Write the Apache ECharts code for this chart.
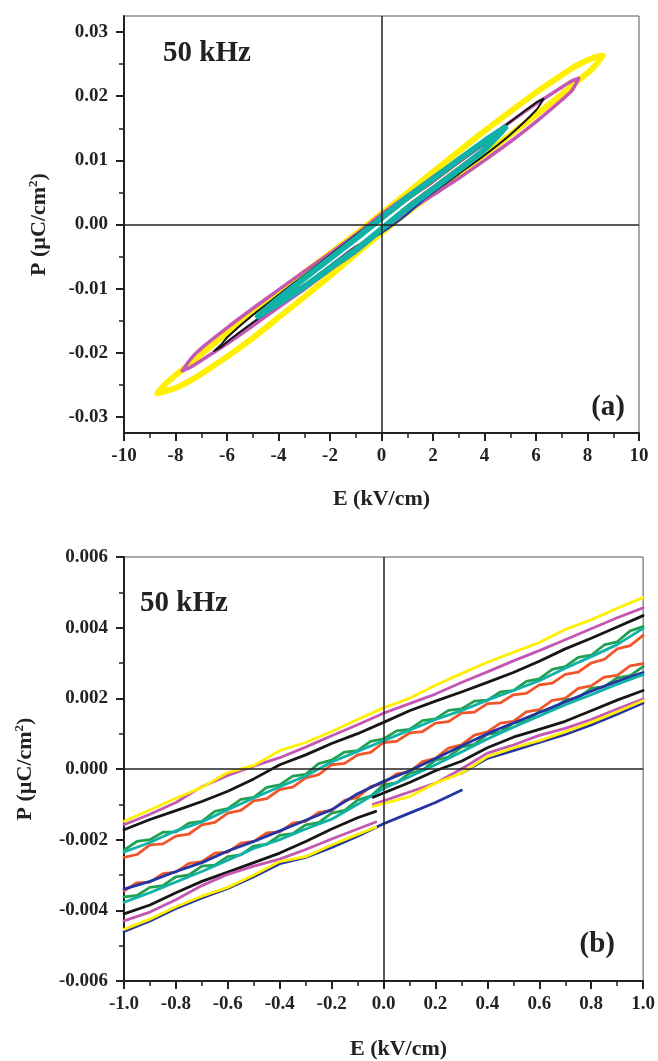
<!DOCTYPE html>
<html>
<head>
<meta charset="utf-8">
<script src="https://cdn.jsdelivr.net/npm/echarts@6/dist/echarts.min.js"></script>
<style>
html,body{margin:0;padding:0;background:#fff;}
#chart{width:658px;height:1061px;}
</style>
</head>
<body>
<div id="chart"></div>
<script>
// ---------- Panel (a): hysteresis loops, E (kV/cm) vs P (uC/cm2) ----------
const yelE = [-8.7,-8.4,-8.0,-7.5,-7.0,-6.0,-5.0,-4.0,-3.0,-2.0,-1.0,0.0,1.0,2.0,3.0,4.0,5.0,6.0,7.0,7.5,8.0,8.3,8.6,
              8.3,8.0,7.5,7.0,6.0,5.0,4.0,3.0,2.0,1.0,0.0,-1.0,-2.0,-3.0,-4.0,-5.0,-6.0,-7.0,-7.5,-8.0,-8.4,-8.7];
const yelP = [-0.0263,-0.0260,-0.0255,-0.0245,-0.0233,-0.0206,-0.0177,-0.0145,-0.0113,-0.0080,-0.0046,-0.0013,0.0019,0.0049,0.0079,0.0109,0.0140,0.0171,0.0203,0.0220,0.0236,0.0248,0.0263,
              0.0261,0.0256,0.0246,0.0233,0.0206,0.0176,0.0146,0.0114,0.0082,0.0049,0.0017,-0.0015,-0.0045,-0.0075,-0.0105,-0.0137,-0.0169,-0.0202,-0.0219,-0.0235,-0.0249,-0.0263];
const magE = [-7.74,-7.4,-7.0,-6.0,-5.0,-4.0,-3.0,-2.0,-1.0,0.0,1.0,2.0,3.0,4.0,5.0,6.0,7.0,7.4,7.66,
              7.4,7.0,6.0,5.0,4.0,3.0,2.0,1.0,0.0,-1.0,-2.0,-3.0,-4.0,-5.0,-6.0,-7.0,-7.4,-7.74];
const magP = [-0.0228,-0.0222,-0.0212,-0.0186,-0.0158,-0.0129,-0.0101,-0.0071,-0.0043,-0.0010,0.0020,0.0046,0.0072,0.0100,0.0129,0.0160,0.0194,0.0209,0.0228,
              0.0224,0.0214,0.0188,0.0160,0.0131,0.0102,0.0074,0.0045,0.0016,-0.0016,-0.0045,-0.0073,-0.0102,-0.0131,-0.0161,-0.0193,-0.0209,-0.0228];
const blkE = [-6.5,-6.2,-6.0,-5.0,-4.0,-3.0,-2.0,-1.0,0.0,1.0,2.0,3.0,4.0,5.0,6.0,6.3,
              6.0,5.0,4.0,3.0,2.0,1.0,0.0,-1.0,-2.0,-3.0,-4.0,-5.0,-6.0,-6.2,-6.5];
const blkP = [-0.0197,-0.0190,-0.0183,-0.0153,-0.0124,-0.0096,-0.0069,-0.0041,-0.0008,0.0022,0.0050,0.0079,0.0108,0.0140,0.0178,0.0196,
              0.0190,0.0160,0.0131,0.0103,0.0074,0.0043,0.0013,-0.0017,-0.0048,-0.0079,-0.0110,-0.0141,-0.0176,-0.0186,-0.0197];
const bluE = [-4.4,-4.0,-3.0,-2.0,-1.0,0.0,1.0,2.0,3.0,4.0,4.4,
              4.0,3.0,2.0,1.0,0.0,-1.0,-2.0,-3.0,-4.0,-4.4];
const bluP = [-0.0134,-0.0122,-0.0095,-0.0064,-0.0034,-0.0013,0.0016,0.0052,0.0088,0.0118,0.0134,
              0.0125,0.0096,0.0066,0.0038,0.0007,-0.0024,-0.0054,-0.0084,-0.0114,-0.0134];
const orgE = [-4.5,-4.0,-3.0,-2.0,-1.0,0.0,1.0,2.0,3.0,4.0,4.5,
              4.0,3.0,2.0,1.0,0.0,-1.0,-2.0,-3.0,-4.0,-4.5];
const orgP = [-0.0137,-0.0120,-0.0093,-0.0064,-0.0035,-0.0004,0.0030,0.0060,0.0090,0.0120,0.0138,
              0.0126,0.0096,0.0066,0.0038,0.0007,-0.0025,-0.0056,-0.0086,-0.0115,-0.0137];
const grnE = [-4.6,-4.0,-3.0,-2.0,-1.0,0.0,1.0,2.0,3.0,4.0,4.6,
              4.0,3.0,2.0,1.0,0.0,-1.0,-2.0,-3.0,-4.0,-4.6];
const grnP = [-0.0140,-0.0121,-0.0094,-0.0065,-0.0036,-0.0004,0.0029,0.0059,0.0089,0.0119,0.0142,
              0.0128,0.0098,0.0069,0.0040,0.0008,-0.0023,-0.0053,-0.0083,-0.0113,-0.0140];
const tealE = [-4.8,-4.0,-3.0,-2.0,-1.0,0.0,1.0,2.0,3.0,4.0,4.8,
               4.0,3.0,2.0,1.0,0.0,-1.0,-2.0,-3.0,-4.0,-4.8];
const tealP = [-0.0143,-0.0123,-0.0097,-0.0068,-0.0040,-0.0007,0.0025,0.0055,0.0085,0.0117,0.0151,
               0.0130,0.0101,0.0071,0.0042,0.0010,-0.0022,-0.0053,-0.0084,-0.0116,-0.0143];

const aYTicks = [-0.03,-0.02,-0.01,0.00,0.01,0.02,0.03];
const aYMinor = [-0.025,-0.015,-0.005,0.005,0.015,0.025];

// ---------- Panel (b): zoom of the loops near the origin ----------
const eGrid = [-1.0,-0.9,-0.8,-0.7,-0.6,-0.5,-0.4,-0.3,-0.2,-0.1,0.0,0.1,0.2,0.3,0.4,0.5,0.6,0.7,0.8,0.9,1.0];
const eFine = [-1.00,-0.95,-0.90,-0.85,-0.80,-0.75,-0.70,-0.65,-0.60,-0.55,-0.50,-0.45,-0.40,-0.35,-0.30,-0.25,-0.20,-0.15,-0.10,-0.05,
               0.00,0.05,0.10,0.15,0.20,0.25,0.30,0.35,0.40,0.45,0.50,0.55,0.60,0.65,0.70,0.75,0.80,0.85,0.90,0.95,1.00];
// upper branches
const yUp = [-0.00148,-0.00116,-0.00083,-0.00052,-0.00010,0.00010,0.00052,0.00075,0.00106,0.00140,0.00173,0.00200,0.00237,0.00270,0.00302,0.00330,0.00358,0.00395,0.00422,0.00455,0.00485];
const mUp = [-0.00158,-0.00128,-0.00095,-0.00050,-0.00018,0.00008,0.00032,0.00062,0.00094,0.00125,0.00158,0.00185,0.00212,0.00245,0.00275,0.00306,0.00335,0.00366,0.00397,0.00428,0.00456];
const kUp = [-0.00172,-0.00143,-0.00118,-0.00092,-0.00063,-0.00028,0.00012,0.00040,0.00072,0.00100,0.00132,0.00165,0.00192,0.00218,0.00245,0.00273,0.00305,0.00340,0.00370,0.00402,0.00434];
const tUp = [-0.00235,-0.00208,-0.00175,-0.00150,-0.00115,-0.00082,-0.00050,-0.00020,0.00020,0.00050,0.00080,0.00110,0.00140,0.00165,0.00195,0.00222,0.00250,0.00285,0.00318,0.00352,0.00398];
const oUp = [-0.00250,-0.00242,-0.00215,-0.00212,-0.00190,-0.00184,-0.00158,-0.00151,-0.00125,-0.00117,-0.00090,-0.00084,-0.00058,-0.00051,-0.00025,-0.00016,0.00012,0.00016,0.00040,0.00047,
             0.00075,0.00078,0.00102,0.00106,0.00130,0.00134,0.00158,0.00161,0.00185,0.00187,0.00210,0.00214,0.00238,0.00243,0.00268,0.00274,0.00300,0.00310,0.00340,0.00349,0.00378];
const gUp = [-0.00230,-0.00205,-0.00200,-0.00179,-0.00178,-0.00153,-0.00148,-0.00120,-0.00112,-0.00086,-0.00080,-0.00052,-0.00045,-0.00020,-0.00015,0.00015,0.00025,0.00048,0.00052,0.00078,
             0.00085,0.00108,0.00112,0.00137,0.00142,0.00166,0.00170,0.00192,0.00195,0.00218,0.00222,0.00248,0.00255,0.00282,0.00290,0.00316,0.00322,0.00351,0.00360,0.00391,0.00403];
// lower branches
const bLowA = [-0.00340,-0.00318,-0.00290,-0.00265,-0.00232,-0.00205,-0.00175,-0.00145,-0.00115,-0.00070,-0.00035,-0.00005,0.00030,0.00065,0.00100,0.00130,0.00160,0.00190,0.00220,0.00248,0.00273];
const tLow = [-0.00377,-0.00350,-0.00320,-0.00290,-0.00258,-0.00225,-0.00200,-0.00170,-0.00142,-0.00100,-0.00055,-0.00022,0.00012,0.00048,0.00085,0.00118,0.00150,0.00182,0.00210,0.00240,0.00267];
const oLow = [-0.00345,-0.00322,-0.00320,-0.00296,-0.00292,-0.00267,-0.00262,-0.00238,-0.00235,-0.00210,-0.00205,-0.00181,-0.00178,-0.00153,-0.00148,-0.00123,-0.00118,-0.00089,-0.00080,-0.00050,
              -0.00040,-0.00014,-0.00008,0.00021,0.00030,0.00059,0.00068,0.00096,0.00105,0.00130,0.00135,0.00162,0.00168,0.00194,0.00200,0.00228,0.00235,0.00260,0.00265,0.00292,0.00298];
const gLow = [-0.00362,-0.00358,-0.00335,-0.00330,-0.00305,-0.00300,-0.00275,-0.00272,-0.00248,-0.00243,-0.00218,-0.00213,-0.00188,-0.00183,-0.00158,-0.00152,-0.00125,-0.00117,-0.00088,-0.00077,
              -0.00045,-0.00039,-0.00012,-0.00003,0.00025,0.00034,0.00062,0.00070,0.00098,0.00104,0.00130,0.00136,0.00162,0.00168,0.00195,0.00202,0.00228,0.00233,0.00258,0.00264,0.00290];
// lower branches that break near E = 0
const segAE = [-1.0,-0.9,-0.8,-0.7,-0.6,-0.5,-0.4,-0.3,-0.2,-0.1,-0.03];
const segBE = [-0.04,0.0,0.1,0.2,0.3,0.4,0.5,0.6,0.7,0.8,0.9,1.0];
const yLowA = [-0.00454,-0.00425,-0.00390,-0.00360,-0.00335,-0.00300,-0.00262,-0.00248,-0.00215,-0.00185,-0.00165];
const yLowB = [-0.00106,-0.00098,-0.00078,-0.00040,-0.00012,0.00035,0.00060,0.00080,0.00105,0.00132,0.00162,0.00193];
const mLowA = [-0.00430,-0.00405,-0.00370,-0.00330,-0.00298,-0.00275,-0.00255,-0.00228,-0.00198,-0.00170,-0.00150];
const mLowB = [-0.00100,-0.00090,-0.00065,-0.00040,0.00000,0.00045,0.00068,0.00095,0.00115,0.00140,0.00170,0.00198];
const kLowA = [-0.00410,-0.00385,-0.00350,-0.00318,-0.00292,-0.00265,-0.00238,-0.00205,-0.00170,-0.00138,-0.00120];
const kLowB = [-0.00080,-0.00068,-0.00038,-0.00005,0.00022,0.00060,0.00090,0.00112,0.00135,0.00165,0.00195,0.00222];
const bbAE = [-1.0,-0.9,-0.8,-0.7,-0.6,-0.5,-0.4,-0.3,-0.2,-0.1,0.0,0.1,0.2,0.3];
const bLowB1 = [-0.00460,-0.00430,-0.00395,-0.00365,-0.00338,-0.00305,-0.00268,-0.00250,-0.00222,-0.00190,-0.00155,-0.00125,-0.00095,-0.00060];
const bbBE = [0.3,0.4,0.5,0.6,0.7,0.8,0.9,1.0];
const bLowB2 = [-0.00012,0.00030,0.00052,0.00075,0.00098,0.00125,0.00155,0.00187];

// ---------- styling ----------
const FONT = '"Liberation Serif", "Times New Roman", serif';
const C = {
  yellow: '#FFEF00', magenta: '#C457B4', black: '#161616', teal: '#10B2A8',
  green: '#22A052', orange: '#F0562A', blue: '#2434A2'
};

function pts(E, P) { return E.map((e, i) => [e, P[i]]); }

function lineSeries(g, E, P, color, width, extra) {
  return Object.assign({
    type: 'line', xAxisIndex: g, yAxisIndex: g === 0 ? 0 : 2,
    data: pts(E, P), showSymbol: false, symbol: 'none', silent: true,
    lineStyle: { color: color, width: width, join: 'round', cap: 'round' },
    emphasis: { disabled: true }, animation: false
  }, extra || {});
}

const zeroLines = {
  silent: true, symbol: ['none', 'none'], label: { show: false },
  lineStyle: { color: '#222', width: 1.5, type: 'solid' },
  data: [{ yAxis: 0 }, { xAxis: 0 }], animation: false
};

const tickLabel = { fontFamily: FONT, fontWeight: 'bold', fontSize: 19, color: '#222' };
const nameStyle = {
  fontFamily: FONT, fontWeight: 'bold', fontSize: 22, color: '#222',
  rich: { sup: { fontFamily: FONT, fontWeight: 'bold', fontSize: 13, color: '#222', padding: [0, 0, 12, 0] } }
};
const axisLine = { show: true, onZero: false, lineStyle: { color: '#222', width: 2 } };

const option = {
  animation: false,
  backgroundColor: '#fff',
  grid: [
    { left: 124, top: 16, width: 515, height: 417, show: true, borderColor: '#555', borderWidth: 1, containLabel: false },
    { left: 124, top: 557, width: 520, height: 424, show: true, borderColor: '#555', borderWidth: 1, containLabel: false }
  ],
  xAxis: [
    {
      gridIndex: 0, type: 'value', min: -10, max: 10, interval: 2,
      axisLine: axisLine,
      axisTick: { show: true, inside: false, length: 8, lineStyle: { color: '#222', width: 2 } },
      minorTick: { show: true, splitNumber: 2, length: 5, lineStyle: { color: '#222', width: 1.5 } },
      splitLine: { show: false }, minorSplitLine: { show: false },
      axisLabel: Object.assign({ margin: 14, formatter: v => String(Math.round(v)) }, tickLabel),
      name: 'E (kV/cm)', nameLocation: 'middle', nameGap: 55, nameTextStyle: nameStyle
    },
    {
      gridIndex: 1, type: 'value', min: -1, max: 1, interval: 0.2,
      axisLine: axisLine,
      axisTick: { show: true, inside: false, length: 8, lineStyle: { color: '#222', width: 2 } },
      minorTick: { show: true, splitNumber: 2, length: 5, lineStyle: { color: '#222', width: 1.5 } },
      splitLine: { show: false }, minorSplitLine: { show: false },
      axisLabel: Object.assign({ margin: 14, formatter: v => (Math.abs(v) < 1e-9 ? '0.0' : v.toFixed(1)) }, tickLabel),
      name: 'E (kV/cm)', nameLocation: 'middle', nameGap: 57,
      nameTextStyle: Object.assign({}, nameStyle, { padding: [0, 0, 0, 30] })
    }
  ],
  yAxis: [
    {
      gridIndex: 0, type: 'value', min: -0.0325, max: 0.0325, position: 'left',
      axisLine: axisLine,
      axisTick: { show: true, inside: false, length: 8, customValues: aYTicks, lineStyle: { color: '#222', width: 2 } },
      splitLine: { show: false },
      axisLabel: Object.assign({ margin: 16, customValues: aYTicks,
        formatter: v => (Math.abs(v) < 1e-9 ? '0.00' : v.toFixed(2)) }, tickLabel),
      name: 'P (µC/cm{sup|2})', nameLocation: 'middle', nameGap: 72, nameTextStyle: nameStyle
    },
    {
      gridIndex: 0, type: 'value', min: -0.0325, max: 0.0325, position: 'left', offset: 0,
      axisLine: { show: false, onZero: false },
      axisTick: { show: true, inside: false, length: 5, customValues: aYMinor, lineStyle: { color: '#222', width: 1.5 } },
      splitLine: { show: false },
      axisLabel: { show: false }
    },
    {
      gridIndex: 1, type: 'value', min: -0.006, max: 0.006, interval: 0.002,
      axisLine: axisLine,
      axisTick: { show: true, inside: false, length: 8, lineStyle: { color: '#222', width: 2 } },
      minorTick: { show: true, splitNumber: 2, length: 5, lineStyle: { color: '#222', width: 1.5 } },
      splitLine: { show: false }, minorSplitLine: { show: false },
      axisLabel: Object.assign({ margin: 16, formatter: v => (Math.abs(v) < 1e-9 ? '0.000' : v.toFixed(3)) }, tickLabel),
      name: 'P (µC/cm{sup|2})', nameLocation: 'middle', nameGap: 86, nameTextStyle: nameStyle
    }
  ],
  graphic: [
    { type: 'text', left: 163, top: 39, style: { text: '50 kHz', font: 'bold 29px ' + FONT, fill: '#222' } },
    { type: 'text', right: 33, top: 393, style: { text: '(a)', font: 'bold 29px ' + FONT, fill: '#222' } },
    { type: 'text', left: 140, top: 589, style: { text: '50 kHz', font: 'bold 29px ' + FONT, fill: '#222' } },
    { type: 'text', right: 43, top: 930, style: { text: '(b)', font: 'bold 29px ' + FONT, fill: '#222' } }
  ],
  series: [
    // panel (a)
    lineSeries(0, yelE, yelP, C.yellow, 6, { smooth: 0.2, markLine: zeroLines }),
    lineSeries(0, magE, magP, C.magenta, 3.5, { smooth: 0.2 }),
    lineSeries(0, blkE, blkP, C.black, 2, { smooth: 0.2 }),
    lineSeries(0, bluE, bluP, C.blue, 2, { smooth: 0.2 }),
    lineSeries(0, orgE, orgP, C.orange, 1.5, { smooth: 0.2 }),
    lineSeries(0, grnE, grnP, C.green, 1.5, { smooth: 0.2 }),
    lineSeries(0, tealE, tealP, C.teal, 6, { smooth: 0.2 }),
    // panel (b)
    lineSeries(1, eFine, oUp, C.orange, 2.8, { markLine: zeroLines }),
    lineSeries(1, eFine, oLow, C.orange, 2.8),
    lineSeries(1, eFine, gUp, C.green, 2.8),
    lineSeries(1, eFine, gLow, C.green, 2.8),
    lineSeries(1, eGrid, bLowA, C.blue, 2.8),
    lineSeries(1, bbAE, bLowB1, C.blue, 2.8),
    lineSeries(1, bbBE, bLowB2, C.blue, 2.8),
    lineSeries(1, eGrid, tUp, C.teal, 2.8),
    lineSeries(1, eGrid, tLow, C.teal, 2.8),
    lineSeries(1, eGrid, kUp, C.black, 2.8),
    lineSeries(1, segAE, kLowA, C.black, 2.8),
    lineSeries(1, segBE, kLowB, C.black, 2.8),
    lineSeries(1, eGrid, mUp, C.magenta, 2.8),
    lineSeries(1, segAE, mLowA, C.magenta, 2.8),
    lineSeries(1, segBE, mLowB, C.magenta, 2.8),
    lineSeries(1, eGrid, yUp, C.yellow, 2.8),
    lineSeries(1, segAE, yLowA, C.yellow, 2.8),
    lineSeries(1, segBE, yLowB, C.yellow, 2.8)
  ]
};

const chart = echarts.init(document.getElementById('chart'), null, { renderer: 'canvas' });
chart.setOption(option);
</script>
</body>
</html>
